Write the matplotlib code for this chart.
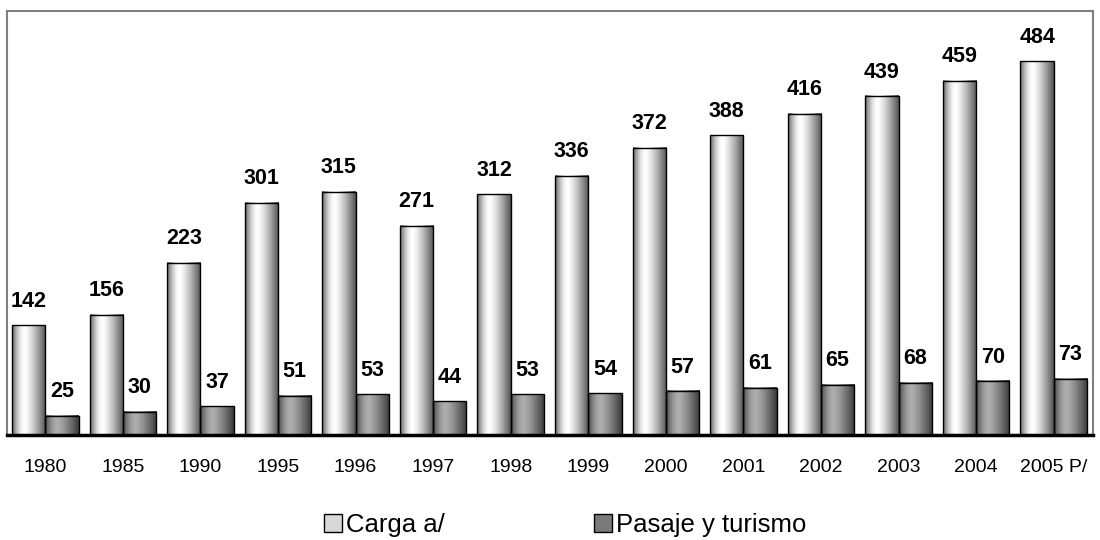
import numpy as np
import matplotlib.pyplot as plt
from matplotlib.patches import Patch

# datos
anios = ['1980', '1985', '1990', '1995', '1996', '1997', '1998', '1999',
         '2000', '2001', '2002', '2003', '2004', '2005 P/']
carga = [142, 156, 223, 301, 315, 271, 312, 336, 372, 388, 416, 439, 459, 484]
pasaje = [25, 30, 37, 51, 53, 44, 53, 54, 57, 61, 65, 68, 70, 73]

plt.rcParams['font.family'] = ['Liberation Sans', 'DejaVu Sans']

fig = plt.figure(figsize=(11, 5.4), dpi=100)
ax = fig.add_axes([0.00636, 0.1944, 0.9873, 0.7852])

x = np.arange(len(anios))
w = 0.429
b1 = ax.bar(x - w / 2, carga, w, color='none', edgecolor='black', linewidth=1, zorder=3)
b2 = ax.bar(x + w / 2, pasaje, w, color='none', edgecolor='black', linewidth=1, zorder=3)

# degradado tipo cilindro
t = np.linspace(0, 1, 100)
def perfil(lo, hi, right):
    izq = lo + (hi - lo) * np.sin(np.clip(t / 0.38, 0, 1) * np.pi / 2)
    der = hi - (hi - right) * ((t - 0.38) / 0.62) ** 1.3
    return np.where(t < 0.38, izq, der)

grad_carga = perfil(0.40, 1.0, 0.32).reshape(1, -1)
grad_pasaje = perfil(0.30, 0.68, 0.22).reshape(1, -1)

for barras, grad in [(b1, grad_carga), (b2, grad_pasaje)]:
    for b in barras:
        x0, h = b.get_x(), b.get_height()
        ax.imshow(grad, cmap='gray', vmin=0, vmax=1, aspect='auto',
                  extent=[x0, x0 + b.get_width(), 0, h], zorder=2,
                  interpolation='bicubic')

# etiquetas de valor
for barras, vals in [(b1, carga), (b2, pasaje)]:
    for b, v in zip(barras, vals):
        ax.text(b.get_x() + b.get_width() / 2, v + 31, str(v), ha='center',
                va='center', fontsize=15.5, fontweight='bold')

ax.set_xlim(-0.493, len(anios) - 0.494)
ax.set_ylim(0, 549)
ax.set_xticks(x)
ax.set_xticklabels(anios, fontsize=14)
ax.tick_params(axis='x', length=0, pad=17)
ax.set_yticks([])
for s in ['left', 'top', 'right']:
    ax.spines[s].set_color('#808080')
    ax.spines[s].set_linewidth(1.5)
ax.spines['bottom'].set_color('black')
ax.spines['bottom'].set_linewidth(2.5)

handles = [Patch(facecolor='#d8d8d8', edgecolor='black', label='Carga a/'),
           Patch(facecolor='#7a7a7a', edgecolor='black', label='Pasaje y turismo')]
fig.legend(handles=handles, loc='center', bbox_to_anchor=(0.514, 0.027), ncol=2,
           frameon=False, fontsize=18.5, handlelength=0.7, handleheight=0.7,
           handletextpad=0.16, columnspacing=5.8, borderpad=0)

fig.savefig('out.png', dpi=100)
